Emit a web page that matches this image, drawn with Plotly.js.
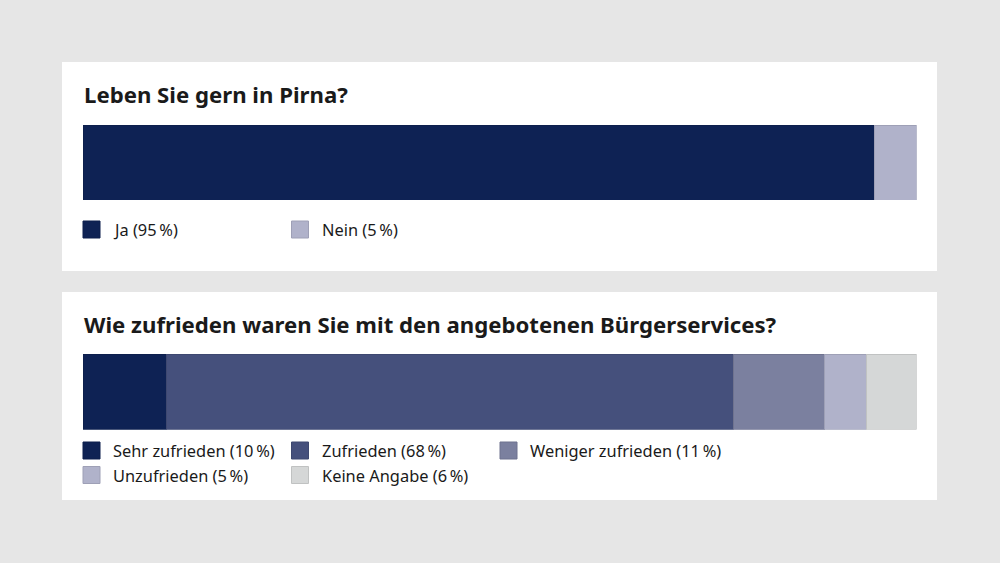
<!DOCTYPE html>
<html>
<head>
<meta charset="utf-8">
<script src="https://cdn.plot.ly/plotly-3.0.1.min.js"></script>
<style>
  html, body { margin: 0; padding: 0; background: #e6e6e6; }
  #chart { width: 1000px; height: 563px; }
</style>
</head>
<body>
<div id="chart"></div>
<script>
// Frage 1
const q1Title = 'Leben Sie gern in Pirna?';
const q1Labels = ['Ja', 'Nein'];
const q1Values = [95, 5];
const q1Colors = ['#0e2254', '#b0b2ca'];

// Frage 2
const q2Title = 'Wie zufrieden waren Sie mit den angebotenen Bürgerservices?';
const q2Labels = ['Sehr zufrieden', 'Zufrieden', 'Weniger zufrieden', 'Unzufrieden', 'Keine Angabe'];
const q2Values = [10, 68, 11, 5, 6];
const q2Colors = ['#0e2254', '#45507c', '#7b809f', '#b0b2ca', '#d5d7d7'];

const W = 1000, H = 563;
const px = x => x / W;
const py = y => 1 - y / H;
const FONT = '"Noto Sans", "Open Sans", sans-serif';
const TXT = '#1a1a1a';

// etwas dunklere Kante je Segment
function darker(hex, f) {
  const n = parseInt(hex.slice(1), 16);
  const r = Math.round(((n >> 16) & 255) * f), g = Math.round(((n >> 8) & 255) * f), b = Math.round((n & 255) * f);
  return 'rgb(' + r + ',' + g + ',' + b + ')';
}

function makeTraces(labels, values, colors, xa, ya) {
  return labels.map((lab, i) => ({
    type: 'bar', orientation: 'h',
    x: [values[i]], y: ['q'],
    width: 1,
    name: lab,
    xaxis: xa, yaxis: ya,
    marker: { color: colors[i], line: { color: darker(colors[i], 0.9), width: 1 } },
    hoverinfo: 'name+x',
    showlegend: false
  }));
}

const traces = [].concat(
  makeTraces(q1Labels, q1Values, q1Colors, 'x', 'y'),
  makeTraces(q2Labels, q2Values, q2Colors, 'x2', 'y2')
);

// weiße Kästen
const shapes = [
  { type: 'rect', xref: 'paper', yref: 'paper', x0: px(62), x1: px(937), y0: py(271), y1: py(62), fillcolor: '#ffffff', line: { width: 0 }, layer: 'below' },
  { type: 'rect', xref: 'paper', yref: 'paper', x0: px(62), x1: px(937), y0: py(500), y1: py(292), fillcolor: '#ffffff', line: { width: 0 }, layer: 'below' }
];

const annotations = [
  { text: '<b>' + q1Title + '</b>', x: px(82), y: py(95), xref: 'paper', yref: 'paper', xanchor: 'left', yanchor: 'middle', showarrow: false, font: { family: FONT, size: 22.2, color: TXT } },
  { text: '<b>' + q2Title + '</b>', x: px(82), y: py(324), xref: 'paper', yref: 'paper', xanchor: 'left', yanchor: 'middle', showarrow: false, font: { family: FONT, size: 22.2, color: TXT } }
];

// Legende: Quadrat + Text in Spalten von ~208 px
function addLegend(labels, values, colors, top, perRow) {
  labels.forEach((lab, i) => {
    const col = i % perRow, row = Math.floor(i / perRow);
    const x0 = 83 + col * 208.5, y0 = top + row * 24.5;
    shapes.push({ type: 'rect', xref: 'paper', yref: 'paper', x0: px(x0), x1: px(x0 + 17), y0: py(y0 + 17), y1: py(y0), fillcolor: colors[i], line: { color: darker(colors[i], 0.9), width: 1 } });
    annotations.push({ text: lab + ' (' + values[i] + '\u2009%)', x: px(x0 + 28), y: py(y0 + 8.5), xref: 'paper', yref: 'paper', xanchor: 'left', yanchor: 'middle', showarrow: false, font: { family: FONT, size: 16.4, color: TXT } });
  });
}
addLegend(q1Labels, q1Values, q1Colors, 221, 3);
addLegend(q2Labels, q2Values, q2Colors, 442, 3);

const hiddenAxis = { showgrid: false, zeroline: false, showticklabels: false, ticks: '', showline: false, fixedrange: true };

const layout = {
  width: W, height: H,
  margin: { l: 0, r: 0, t: 0, b: 0 },
  paper_bgcolor: '#e6e6e6',
  plot_bgcolor: 'rgba(0,0,0,0)',
  barmode: 'stack',
  showlegend: false,
  xaxis: Object.assign({ domain: [px(83), px(916.5)], range: [0, 100], anchor: 'y' }, hiddenAxis),
  yaxis: Object.assign({ domain: [py(200), py(125)], range: [-0.5, 0.5], anchor: 'x' }, hiddenAxis),
  xaxis2: Object.assign({ domain: [px(83), px(916.5)], range: [0, 100], anchor: 'y2' }, hiddenAxis),
  yaxis2: Object.assign({ domain: [py(429.5), py(354)], range: [-0.5, 0.5], anchor: 'x2' }, hiddenAxis),
  shapes: shapes,
  annotations: annotations
};

Plotly.newPlot('chart', traces, layout, { displayModeBar: false });
</script>
</body>
</html>
